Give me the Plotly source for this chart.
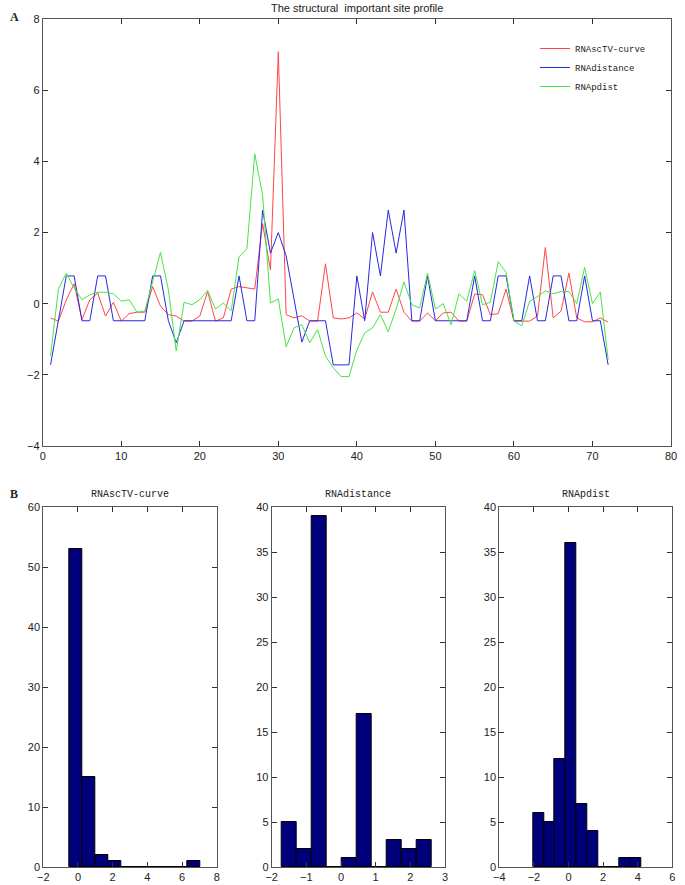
import plotly.graph_objects as go

# 위치(site) 1..72
sites = list(range(1, 73))

rna_sctv = [-0.40, -0.49, 0.10, 0.56, -0.45, 0.11, 0.30, -0.35, 0.04, -0.49,
            -0.28, -0.24, -0.24, 0.48, -0.07, -0.31, -0.35, -0.49, -0.49, -0.35,
            0.34, -0.49, -0.40, 0.41, 0.48, 0.44, 0.41, 2.25, 0.95, 7.08,
            -0.31, -0.40, -0.34, -0.49, -0.49, 1.12, -0.40, -0.43, -0.40, -0.26,
            -0.43, 0.33, -0.24, -0.24, 0.41, -0.24, -0.49, -0.49, -0.26, -0.48,
            -0.26, -0.24, -0.49, -0.49, 0.27, 0.25, -0.31, -0.28, 0.41, -0.49,
            -0.49, -0.49, -0.35, 1.58, -0.40, -0.21, 0.86, -0.40, -0.51, -0.51,
            -0.40, -0.52]

rna_distance = [-1.72, -0.48, 0.78, 0.78, -0.48, -0.48, 0.78, 0.78, -0.48, -0.48,
                -0.48, -0.48, -0.48, 0.78, 0.78, -0.48, -1.10, -0.48, -0.48, -0.48,
                -0.48, -0.48, -0.48, -0.48, 0.78, -0.48, -0.48, 2.63, 1.42, 2.00,
                1.34, 0.13, -1.08, -0.48, -0.48, -0.48, -1.72, -1.72, -1.72, 0.78,
                -0.48, 2.00, 0.78, 2.63, 1.42, 2.63, -0.48, -0.48, 0.78, -0.48,
                -0.48, -0.48, -0.48, -0.48, 0.78, -0.48, -0.48, 0.78, 0.78, -0.48,
                -0.48, 0.78, -0.48, -0.48, 0.78, 0.78, -0.48, -0.48, 0.78, -0.48,
                -0.48, -1.72]

rna_pdist = [-1.47, 0.41, 0.86, 0.44, 0.11, 0.25, 0.32, 0.32, 0.28, 0.07,
             0.11, -0.24, -0.21, 0.62, 1.44, 0.39, -1.33, 0.04, -0.03, 0.11,
             0.37, -0.15, 0.02, -0.20, 1.32, 1.54, 4.21, 3.05, 0.02, 0.13,
             -1.21, -0.68, -0.59, -1.10, -0.73, -1.47, -1.80, -2.05, -2.05, -1.30,
             -0.82, -0.68, -0.31, -0.79, -0.15, 0.61, -0.03, -0.12, 0.86, -0.15,
             0.00, -0.59, 0.28, 0.07, 0.93, -0.03, 0.04, 1.18, 0.88, -0.49,
             -0.62, 0.07, 0.20, 0.36, 0.28, 0.34, 0.34, 0.00, 1.02, 0.00,
             0.33, -1.57]

# 히스토그램 (10개 구간, 그림에서 읽은 빈도)
hist_sctv = [53, 15, 2, 1, 0, 0, 0, 0, 0, 1]
hist_distance = [5, 2, 39, 0, 1, 17, 0, 3, 2, 3]
hist_pdist = [6, 5, 12, 36, 7, 4, 0, 0, 1, 1]

names = ['RNAscTV-curve', 'RNAdistance', 'RNApdist']
colors = ['rgb(255,70,70)', 'rgb(40,40,225)', 'rgb(70,228,70)']

W, H = 685, 885
mono = 'Liberation Mono, DejaVu Sans Mono, monospace'
sans = 'Liberation Sans Narrow, Liberation Sans, Arial, sans-serif'


def px_x(a, b):
    return [a / W, b / W]


def px_y(top, bottom):
    return [1 - bottom / H, 1 - top / H]


def pos(x, y):
    return dict(x=x / W, y=1 - y / H)


fig = go.Figure()

# 상단 라인 그래프
for name, ys, c in zip(names, [rna_sctv, rna_distance, rna_pdist], colors):
    fig.add_trace(go.Scatter(x=sites, y=ys, mode='lines', name=name,
                             line=dict(color=c, width=1)))

# 하단 히스토그램 3개
hists = [hist_sctv, hist_distance, hist_pdist]
series = [rna_sctv, rna_distance, rna_pdist]
for i, (counts, ys) in enumerate(zip(hists, series)):
    lo, hi = min(ys), max(ys)
    w = (hi - lo) / len(counts)
    centers = [lo + (j + 0.5) * w for j in range(len(counts))]
    fig.add_trace(go.Bar(x=centers, y=counts, width=w, showlegend=False,
                         marker=dict(color='#00007a', line=dict(color='black', width=1)),
                         xaxis='x%d' % (i + 2), yaxis='y%d' % (i + 2)))

ax = dict(showline=True, linecolor='#555', linewidth=1, mirror='ticks',
          ticks='inside', ticklen=5, tickcolor='#333', showgrid=False,
          zeroline=False, automargin=False,
          tickfont=dict(family=sans, size=11, color='#222'))

lg = pos(535, 34)
fig.update_layout(
    width=W, height=H,
    margin=dict(l=0, r=0, t=0, b=0),
    plot_bgcolor='white', paper_bgcolor='white',
    bargap=0,
    xaxis=dict(ax, domain=px_x(42.7, 671), range=[0, 80], dtick=10, anchor='y'),
    yaxis=dict(ax, domain=px_y(19, 446), range=[-4, 8], dtick=2, anchor='x'),
    xaxis2=dict(ax, domain=px_x(43.3, 216.7), range=[-2, 8], dtick=2, anchor='y2'),
    yaxis2=dict(ax, domain=px_y(507, 867), range=[0, 60], dtick=10, anchor='x2'),
    xaxis3=dict(ax, domain=px_x(271.7, 445), range=[-2, 3], dtick=1, anchor='y3'),
    yaxis3=dict(ax, domain=px_y(507, 867), range=[0, 40], dtick=5, anchor='x3'),
    xaxis4=dict(ax, domain=px_x(499.3, 672.3), range=[-4, 6], dtick=2, anchor='y4'),
    yaxis4=dict(ax, domain=px_y(507, 867), range=[0, 40], dtick=5, anchor='x4'),
    legend=dict(x=lg['x'], y=lg['y'], xanchor='left', yanchor='top',
                bgcolor='rgba(255,255,255,0)', font=dict(family=mono, size=9, color='#222'),
                itemwidth=30, tracegroupgap=0),
    showlegend=True,
)

annos = [
    dict(text='The structural  important site profile', **pos(357, 8),
         font=dict(family=sans, size=11, color='#222')),
    dict(text='<b>A</b>', **pos(14, 17),
         font=dict(family='Liberation Serif, serif', size=12, color='#222')),
    dict(text='<b>B</b>', **pos(14, 494),
         font=dict(family='Liberation Serif, serif', size=12, color='#222')),
]
for name, (a, b) in zip(names, [(43.3, 216.7), (271.7, 445), (499.3, 672.3)]):
    annos.append(dict(text=name, **pos((a + b) / 2, 495),
                      font=dict(family=mono, size=10, color='#222')))
for an in annos:
    fig.add_annotation(xref='paper', yref='paper', showarrow=False,
                       xanchor='center', yanchor='middle', **an)

# body 기본 여백 제거, 모드바 숨김
fig.write_html("out.html", config={'displayModeBar': False},
               post_script="document.body.style.margin='0';")
